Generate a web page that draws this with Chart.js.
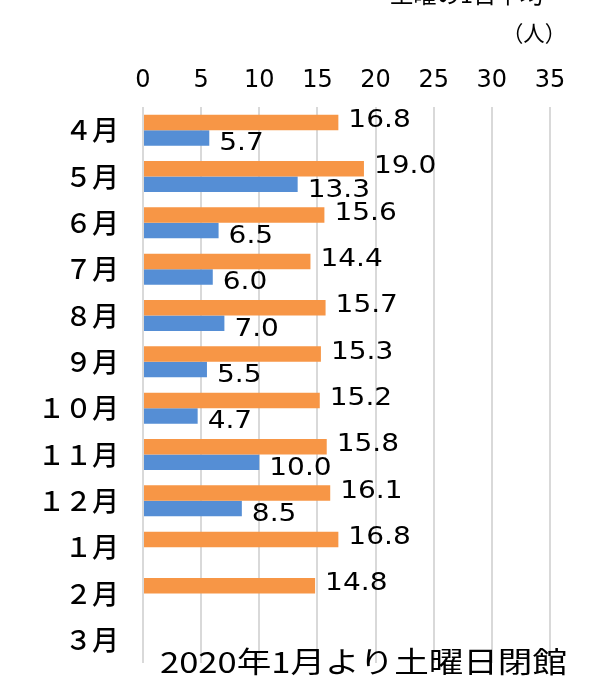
<!DOCTYPE html>
<html lang="ja">
<head>
<meta charset="utf-8">
<script src="https://cdn.jsdelivr.net/npm/chart.js@4/dist/chart.umd.min.js"></script>
<style>
  html, body { margin: 0; padding: 0; background: #fff; }
  canvas { display: block; }
</style>
</head>
<body>
<canvas id="satChart" width="596" height="679"></canvas>
<script>
// 土曜の1日平均 (人)
const months = ['４月', '５月', '６月', '７月', '８月', '９月', '１０月', '１１月', '１２月', '１月', '２月', '３月'];
const seriesOrange = [16.8, 19.0, 15.6, 14.4, 15.7, 15.3, 15.2, 15.8, 16.1, 16.8, 14.8, null];
const seriesBlue = [5.7, 13.3, 6.5, 6.0, 7.0, 5.5, 4.7, 10.0, 8.5, null, null, null];
const xTicks = [0, 5, 10, 15, 20, 25, 30, 35];

const titleText = '土曜の1日平均';
const unitText = '（人）';
const noteText = '2020年1月より土曜日閉館';

const numFont = '"DejaVu Sans", "Liberation Sans", sans-serif';
const jpFont = '"Noto Sans CJK JP", "Noto Sans", sans-serif';

// draw text stretched horizontally to a given width
function stretchText(ctx, text, x, y, font, targetW) {
  ctx.save();
  ctx.font = font;
  const w = ctx.measureText(text).width;
  const sx = targetW ? targetW / w : 1;
  ctx.translate(x, y);
  ctx.scale(sx, 1);
  ctx.fillText(text, 0, 0);
  ctx.restore();
}

// ===== VALUE LABELS + EXTRA TEXT =====
const labelsPlugin = {
  id: 'labelsPlugin',
  afterDatasetsDraw(chart) {
    const ctx = chart.ctx;
    ctx.save();
    ctx.fillStyle = '#000';
    ctx.textAlign = 'left';
    ctx.textBaseline = 'middle';
    chart.data.datasets.forEach((ds, i) => {
      const meta = chart.getDatasetMeta(i);
      meta.data.forEach((bar, j) => {
        const v = ds.data[j];
        if (v === null || v === undefined) return;
        const dy = i === 0 ? -2 : 6;
        ctx.save();
        ctx.font = '25px ' + numFont;
        ctx.translate(bar.x + 10, bar.y + dy);
        ctx.scale(1.12, 1);
        ctx.fillText(v.toFixed(1), 0, 0);
        ctx.restore();
      });
    });
    ctx.restore();
  },
  afterDraw(chart) {
    const ctx = chart.ctx;
    ctx.save();
    ctx.fillStyle = '#000';
    ctx.textAlign = 'left';
    ctx.textBaseline = 'middle';
    stretchText(ctx, titleText, 390, -6, '24px ' + jpFont, 153);
    stretchText(ctx, unitText, 502, 33, '22px ' + jpFont, 64);
    ctx.textBaseline = 'alphabetic';
    stretchText(ctx, noteText, 160, 673, '29px ' + jpFont, 407);
    ctx.restore();
  }
};

const ctx = document.getElementById('satChart').getContext('2d');
const satChart = new Chart(ctx, {
  type: 'bar',
  data: {
    labels: months,
    datasets: [
      {
        label: '2019',
        data: seriesOrange,
        backgroundColor: '#F79646',
        categoryPercentage: 0.67,
        barPercentage: 1.0,
      },
      {
        label: '2018',
        data: seriesBlue,
        backgroundColor: '#558ED5',
        categoryPercentage: 0.67,
        barPercentage: 1.0,
      },
    ],
  },
  options: {
    indexAxis: 'y',
    responsive: false,
    animation: false,
    devicePixelRatio: 1,
    layout: {
      padding: { left: 0, right: 46, top: 0, bottom: 16 },
    },
    plugins: {
      legend: { display: false },
      tooltip: { enabled: false },
    },
    scales: {
      x: {
        position: 'top',
        min: 0,
        max: 35,
        afterBuildTicks: (scale) => {
          scale.ticks = xTicks.map((v) => ({ value: v }));
        },
        afterFit: (scale) => {
          scale.height = 107;
        },
        ticks: {
          color: '#000',
          padding: 12,
          font: { family: numFont, size: 24 },
        },
        grid: {
          color: '#d9d9d9',
          lineWidth: 2,
          drawTicks: false,
        },
        border: { display: false },
      },
      y: {
        afterFit: (scale) => {
          scale.width = 143;
          scale.paddingTop = 0;
          scale.paddingBottom = 0;
        },
        ticks: {
          color: '#000',
          padding: 24,
          font: { family: jpFont, size: 27, weight: '500' },
        },
        grid: { display: false, drawTicks: false },
        border: { display: false },
      },
    },
  },
  plugins: [labelsPlugin],
});
</script>
</body>
</html>
